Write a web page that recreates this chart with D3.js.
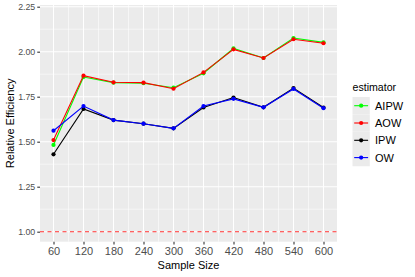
<!DOCTYPE html>
<html><head><meta charset="utf-8">
<script src="https://cdn.jsdelivr.net/npm/d3@7"></script>
<style>body{margin:0;background:#fff}svg{display:block;font-family:"Liberation Sans",Arial,Helvetica,sans-serif}</style>
</head><body><svg id="c" width="415" height="277"></svg>
<script>
const sampleSizes = [60,120,180,240,300,360,420,480,540,600];
const estimators = ["AIPW","AOW","IPW","OW"];
const colors = ["#00ff00","#ff0000","#000000","#0000ff"];
const aipw = [1.482,1.859,1.828,1.825,1.800,1.880,2.018,1.965,2.076,2.052];
const aow  = [1.509,1.867,1.830,1.828,1.794,1.885,2.013,1.965,2.069,2.047];
const ipw  = [1.430,1.682,1.620,1.600,1.574,1.690,1.745,1.691,1.798,1.690];
const ow   = [1.561,1.698,1.620,1.600,1.574,1.698,1.738,1.691,1.793,1.686];
const seriesValues = [aipw,aow,ipw,ow];
const yTicks = [1.00,1.25,1.50,1.75,2.00,2.25];
const refLine = 1.0;

const svg = d3.select("#c");
const L=40, R=337, T=5, B=241.7;
const x = d3.scaleLinear().domain([33,627]).range([L,R]);
const y = d3.scaleLinear().domain([0.9444,2.2594]).range([B,T]);

svg.append("rect").attr("x",L).attr("y",T).attr("width",R-L).attr("height",B-T).attr("fill","#ebebeb");
const g = svg.append("g");
const xMinor = sampleSizes.slice(0,-1).map((d,i)=>(d+sampleSizes[i+1])/2);
const yMinor = yTicks.slice(0,-1).map((d,i)=>(d+yTicks[i+1])/2);
g.selectAll(".xm").data(xMinor).enter().append("line").attr("x1",d=>x(d)).attr("x2",d=>x(d)).attr("y1",T).attr("y2",B).attr("stroke","#fff").attr("stroke-width",0.55);
g.selectAll(".ym").data(yMinor).enter().append("line").attr("y1",d=>y(d)).attr("y2",d=>y(d)).attr("x1",L).attr("x2",R).attr("stroke","#fff").attr("stroke-width",0.55);
g.selectAll(".xM").data(sampleSizes).enter().append("line").attr("x1",d=>x(d)).attr("x2",d=>x(d)).attr("y1",T).attr("y2",B).attr("stroke","#fff").attr("stroke-width",1.1);
g.selectAll(".yM").data(yTicks).enter().append("line").attr("y1",d=>y(d)).attr("y2",d=>y(d)).attr("x1",L).attr("x2",R).attr("stroke","#fff").attr("stroke-width",1.1);

svg.append("line").attr("x1",L).attr("x2",R).attr("y1",y(refLine)).attr("y2",y(refLine))
  .attr("stroke","#ff3030").attr("stroke-width",1.1).attr("stroke-dasharray","4,3.5");

const line = d3.line().x((d,i)=>x(sampleSizes[i])).y(d=>y(d));
seriesValues.forEach((vals,k)=>{
  svg.append("path").datum(vals).attr("d",line).attr("fill","none").attr("stroke",colors[k]).attr("stroke-width",1.1);
  svg.append("g").selectAll("circle").data(vals).enter().append("circle")
    .attr("cx",(d,i)=>x(sampleSizes[i])).attr("cy",d=>y(d)).attr("r",2.1).attr("fill",colors[k]);
});

const xAxis = d3.axisBottom(x).tickValues(sampleSizes).tickSize(2.75).tickPadding(3);
const xa = svg.append("g").attr("transform",`translate(0,${B})`).call(xAxis);
const yAxis = d3.axisLeft(y).tickValues(yTicks).tickFormat(d3.format(".2f")).tickSize(2.75).tickPadding(2);
const ya = svg.append("g").attr("transform",`translate(${L},0)`).call(yAxis);
[xa,ya].forEach(a=>{
  a.select(".domain").remove();
  a.selectAll(".tick line").attr("stroke","#333").attr("stroke-width",1.1);
  a.selectAll(".tick text").attr("fill","#4d4d4d").style("font-family","Liberation Sans, Arial, sans-serif");
});
xa.selectAll(".tick text").style("font-size","11px");
ya.selectAll(".tick text").style("font-size","8.8px");

svg.append("text").attr("x",(L+R)/2).attr("y",269).attr("text-anchor","middle").attr("font-size","11px").attr("fill","#000").text("Sample Size");
svg.append("text").attr("transform",`translate(14,${(T+B)/2}) rotate(-90)`).attr("text-anchor","middle").attr("font-size","11px").attr("fill","#000").text("Relative Efficiency");

const lg = svg.append("g");
lg.append("text").attr("x",352.5).attr("y",91).attr("font-size","10.6px").attr("fill","#000").text("estimator");
estimators.forEach((e,k)=>{
  const cy = 105.7 + k*17.3;
  lg.append("rect").attr("x",352.5).attr("y",cy-8.65).attr("width",17.3).attr("height",17.3).attr("fill","#ebebeb");
  lg.append("line").attr("x1",354.2).attr("x2",368.1).attr("y1",cy).attr("y2",cy).attr("stroke",colors[k]).attr("stroke-width",1.1);
  lg.append("circle").attr("cx",361.15).attr("cy",cy).attr("r",2.1).attr("fill",colors[k]);
  lg.append("text").attr("x",375).attr("y",cy+4).attr("font-size","11px").attr("fill","#000").text(e);
});
</script></body></html>
